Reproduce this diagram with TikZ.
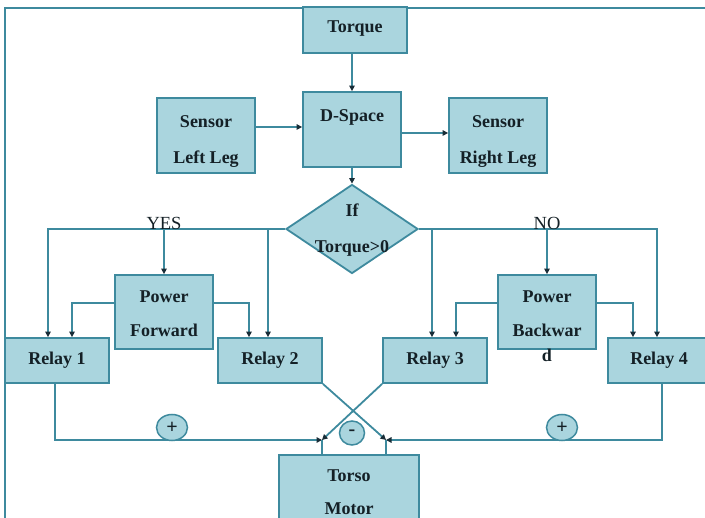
\documentclass[tikz,border=0pt]{standalone}
\usepackage{fontspec}
\setmainfont{Liberation Serif}
\usetikzlibrary{shapes.geometric,arrows.meta}
\definecolor{boxfill}{RGB}{170,213,222}
\definecolor{edge}{RGB}{62,138,158}
\definecolor{tipc}{RGB}{25,45,55}
\definecolor{txt}{RGB}{20,32,38}
\begin{document}
\begin{tikzpicture}[x=1pt,y=-1pt,
  box/.style={draw=edge,line width=1.8pt,fill=boxfill,rectangle,inner sep=0pt},
  dbox/.style={draw=edge,line width=1.8pt,fill=boxfill,diamond,inner sep=0pt,aspect=1.483},
  sign/.style={draw=edge,line width=1.5pt,fill=boxfill,ellipse,inner sep=0pt,minimum width=31pt,minimum height=26pt,font=\bfseries\fontsize{20}{20}\selectfont,text=txt},
  lbl/.style={anchor=base,inner sep=0pt,font=\bfseries\fontsize{18}{18}\selectfont,text=txt},
  yn/.style={anchor=base,inner sep=0pt,font=\fontsize{18.5}{18}\selectfont,text=txt},
  ln/.style={draw=edge,line width=1.8pt},
  arr/.style={ln,-{Triangle[length=5.5pt,width=5.5pt,color=tipc]}}]
\useasboundingbox (0,0) rectangle (705,518);
\clip (0,0) rectangle (705,518);
\fill[white] (0,0) rectangle (705,518);
% outer frame
\draw[ln] (5,520) -- (5,8) -- (706,8);
% boxes
\node[box,minimum width=104pt,minimum height=46pt] (torque) at (355,30) {};
\node[box,minimum width=98pt,minimum height=75pt] (dspace) at (352,129.5) {};
\node[box,minimum width=98pt,minimum height=75pt] (sll) at (206,135.5) {};
\node[box,minimum width=98pt,minimum height=75pt] (srl) at (498,135.5) {};
\node[dbox,minimum width=132pt,minimum height=89pt] (dia) at (352,229) {};
\node[box,minimum width=98pt,minimum height=74pt] (pf) at (164,312) {};
\node[box,minimum width=98pt,minimum height=74pt] (pb) at (547,312) {};
\node[box,minimum width=104pt,minimum height=45pt] (r1) at (57,360.5) {};
\node[box,minimum width=104pt,minimum height=45pt] (r2) at (270,360.5) {};
\node[box,minimum width=104pt,minimum height=45pt] (r3) at (435,360.5) {};
\node[box,minimum width=104pt,minimum height=45pt] (r4) at (660,360.5) {};
\node[box,minimum width=140pt,minimum height=85pt] (motor) at (349,497.5) {};
% connectors top
\draw[arr] (torque.south -| dspace.north) -- (dspace.north);
\draw[arr] (dspace.south) -- (dia.north);
\draw[arr] (sll.east |- 0,127) -- (dspace.west |- 0,127);
\draw[arr] (dspace.east |- 0,133) -- (srl.west |- 0,133);
% yes branch
\draw[arr] (dia.west) -| (48,0 |- r1.north);
\draw[arr] (pf.north |- dia.west) -- (pf.north);
\draw[arr] (268,0 |- dia.west) -- (268,0 |- r2.north);
\draw[arr] (pf.west |- 0,303) -| (72,0 |- r1.north);
\draw[arr] (pf.east |- 0,303) -| (249,0 |- r2.north);
% no branch
\draw[arr] (dia.east) -| (657,0 |- r4.north);
\draw[arr] (pb.north |- dia.east) -- (pb.north);
\draw[arr] (432,0 |- dia.east) -- (432,0 |- r3.north);
\draw[arr] (pb.west |- 0,303) -| (456,0 |- r3.north);
\draw[arr] (pb.east |- 0,303) -| (633,0 |- r4.north);
% bottom
\coordinate (jl) at (322,440);
\coordinate (jr) at (386,440);
\draw[arr] (55,0 |- r1.south) |- (jl);
\draw[arr] (662,0 |- r4.south) |- (jr);
\draw[arr] (r2.south east) -- (jr);
\draw[arr] (r3.south west) -- (jl);
\draw[ln] (jl) -- (jl |- motor.north);
\draw[ln] (jr) -- (jr |- motor.north);
% signs
\node[sign] (plus1) at (172,427.5) {+};
\node[sign,minimum width=25pt,minimum height=24pt] (minus) at (352,433) {\raisebox{1.5pt}{-}};
\node[sign] (plus2) at (562,427.5) {+};
% texts
\node[lbl] (t1) at (355,33) {Torque};
\node[lbl] (t2) at (352,122) {D-Space};
\node[lbl] (t3) at (206,128) {Sensor};
\node[lbl] (t4) at (206,164) {Left Leg};
\node[lbl] (t5) at (498,128) {Sensor};
\node[lbl] (t6) at (498,164) {Right Leg};
\node[lbl] (t7) at (352,217) {If};
\node[lbl] (t8) at (352,253) {Torque>0};
\node[yn] (t9) at (164,229.5) {YES};
\node[yn] (t10) at (547,229.5) {NO};
\node[lbl] (t11) at (164,303) {Power};
\node[lbl] (t12) at (164,337) {Forward};
\node[lbl] (t13) at (547,303) {Power};
\node[lbl] (t14) at (547,337) {Backwar};
\node[lbl] (t15) at (547,362) {d};
\node[lbl] (t16) at (57,365) {Relay 1};
\node[lbl] (t17) at (270,365) {Relay 2};
\node[lbl] (t18) at (435,365) {Relay 3};
\node[lbl] (t19) at (659,365) {Relay 4};
\node[lbl] (t20) at (349,482) {Torso};
\node[lbl] (t21) at (349,515) {Motor};
\end{tikzpicture}
\end{document}
